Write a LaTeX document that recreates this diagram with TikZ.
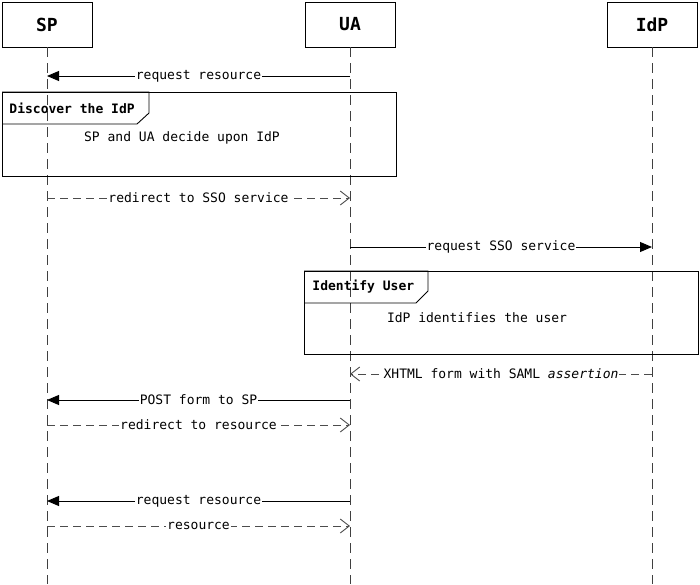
\documentclass[tikz,border=0pt]{standalone}
\usepackage{fontspec}
\setmonofont{DejaVu Sans Mono}
\usetikzlibrary{arrows.meta}

\tikzset{
	every path/.style={line width=0.9pt},
	actor/.style={draw, minimum width=90pt, minimum height=45pt, inner sep=0pt,
		font=\ttfamily\bfseries\fontsize{18}{20}\selectfont},
	lifeline/.style={black!75, dash pattern=on 10pt off 6pt},
	call/.style={-{Triangle[length=12pt, width=10pt]}},
	reply/.style={black!70, dash pattern=on 8pt off 5pt, -{Straight Barb[length=9pt, width=14pt]}},
	msglabel/.style={fill=white, text=black, inner sep=1pt, font=\ttfamily\fontsize{13}{15}\selectfont},
	fragment/.style={draw, anchor=north west, inner sep=0pt},
	fragtitle/.style={anchor=west, inner sep=0pt, font=\ttfamily\bfseries\fontsize{13}{15}\selectfont},
	fragnote/.style={inner sep=0pt, font=\ttfamily\fontsize{13}{15}\selectfont}
}

\begin{document}
\begin{tikzpicture}[x=1pt, y=-1pt]
	
	\useasboundingbox (0, 0) rectangle (700, 584);
	
	% participants
	\node[actor] (sp) at (47, 24.5) {SP};
	\node[actor] (ua) at (350, 24.5) {UA};
	\node[actor] (idp) at (652, 24.5) {IdP};
	
	\coordinate (bottom) at (0, 584);
	\draw[lifeline] (sp.south) -- (sp.south |- bottom);
	\draw[lifeline] (ua.south) -- (ua.south |- bottom);
	\draw[lifeline] (idp.south) -- (idp.south |- bottom);
	
	% message rows
	\coordinate (m1) at (0, 76);
	\coordinate (m2) at (0, 198);
	\coordinate (m3) at (0, 247);
	\coordinate (m4) at (0, 374);
	\coordinate (m5) at (0, 400);
	\coordinate (m6) at (0, 425);
	\coordinate (m7) at (0, 501);
	\coordinate (m8) at (0, 526);
	
	\draw[call] (ua |- m1) -- node[msglabel] {request resource} (sp |- m1);
	
	% discover the IdP
	\node[fragment, minimum width=394pt, minimum height=84pt] (discover) at (2, 92) {};
	\draw (discover.north west) -- ++(147, 0) -- ++(0, 21) -- ++(-12, 11) -- (discover.west |- 0, 124);
	\node[fragtitle] (discovertitle) at (9, 108) {Discover the IdP};
	\node[fragnote] (discovernote) at (182, 138) {SP and UA decide upon IdP};
	
	\draw[reply] (sp |- m2) -- node[msglabel] {redirect to SSO service} (ua |- m2);
	
	\draw[call] (ua |- m3) -- node[msglabel] {request SSO service} (idp |- m3);
	
	% identify user
	\node[fragment, minimum width=394pt, minimum height=83pt] (identify) at (304, 271) {};
	\draw (identify.north west) -- ++(124, 0) -- ++(0, 20) -- ++(-12, 12) -- (identify.west |- 0, 303);
	\node[fragtitle] (identifytitle) at (312, 287) {Identify User};
	\node[fragnote] (identifynote) at (477, 318) {IdP identifies the user};
	
	\draw[reply] (idp |- m4) -- node[msglabel] {XHTML form with SAML \textit{assertion}} (ua |- m4);
	
	\draw[call] (ua |- m5) -- node[msglabel] {POST form to SP} (sp |- m5);
	\draw[reply] (sp |- m6) -- node[msglabel] {redirect to resource} (ua |- m6);
	
	\draw[call] (ua |- m7) -- node[msglabel] {request resource} (sp |- m7);
	\draw[reply] (sp |- m8) -- node[msglabel] {resource} (ua |- m8);
	
\end{tikzpicture}
\end{document}
